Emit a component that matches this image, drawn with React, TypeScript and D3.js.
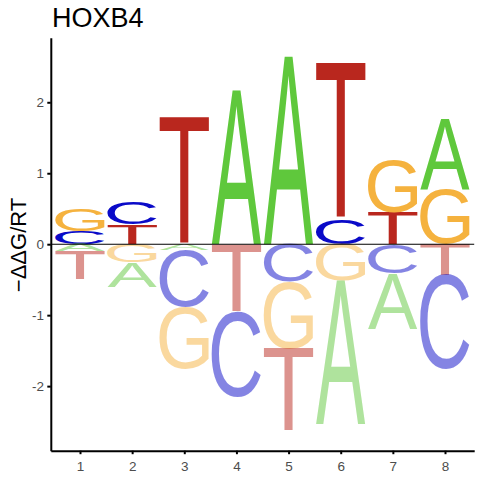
import { useEffect, useRef } from "react";
import * as d3 from "d3";

// energy logo values (-ddG/RT) per position
const positions = [1, 2, 3, 4, 5, 6, 7, 8];
const bases = ["A", "C", "G", "T"];
const valuesA = [-0.10, -0.35, -0.08, 2.17, 2.65, -2.03, -0.78, 1.00];
const valuesC = [0.18, 0.32, -0.80, -1.20, -0.53, 0.36, -0.41, -1.33];
const valuesG = [0.31, -0.25, -0.88, 0.0, -0.94, -0.51, 0.74, 0.77];
const valuesT = [-0.40, 0.28, 1.80, -0.95, -1.17, 2.20, 0.45, -0.44];
const yTicks = [-2, -1, 0, 1, 2];
const title = "HOXB4";
const yLabel = "\u2212\u0394\u0394G/RT";

const baseColors: Record<string, string> = {
    A: "#5fc83c",
    C: "#0a0ac8",
    G: "#f5b23e",
    T: "#b9271e",
};

const FONT = "Liberation Sans";

interface GlyphBox {
    left: number;
    right: number;
    ascent: number;
    descent: number;
}

const glyphCache: Record<string, GlyphBox> = {};
let measureCtx: CanvasRenderingContext2D | null = null;

// tight ink bounds of a letter drawn at 100px
function glyphBox(ch: string): GlyphBox {
    if (glyphCache[ch]) return glyphCache[ch];
    if (!measureCtx) measureCtx = document.createElement("canvas").getContext("2d");
    const ctx = measureCtx!;
    ctx.font = `100px '${FONT}'`;
    const m = ctx.measureText(ch);
    const box = {
        left: m.actualBoundingBoxLeft,
        right: m.actualBoundingBoxRight,
        ascent: m.actualBoundingBoxAscent,
        descent: m.actualBoundingBoxDescent,
    };
    glyphCache[ch] = box;
    return box;
}

export default function App() {
    const svgRef = useRef<SVGSVGElement>(null);

    useEffect(() => {
        const svg = d3.select(svgRef.current);
        svg.selectAll("*").remove();

        const x = d3.scaleLinear().domain([0.44, 8.56]).range([50.8, 474.2]);
        const y = d3.scaleLinear().domain([-2.91, 2.91]).range([450.7, 37.7]);

        const series: Record<string, number[]> = { A: valuesA, C: valuesC, G: valuesG, T: valuesT };
        const halfWidth = 0.475;

        const letters = svg.append("g");

        positions.forEach((pos, i) => {
            const cells = bases.map(b => ({ base: b, value: series[b][i] })).filter(d => d.value !== 0);
            // smallest magnitude sits next to zero
            const up = cells.filter(d => d.value > 0).sort((a, b) => a.value - b.value);
            const down = cells.filter(d => d.value < 0).sort((a, b) => b.value - a.value);

            const draw = (base: string, v0: number, v1: number, negative: boolean) => {
                const g = glyphBox(base);
                const x0 = x(pos - halfWidth);
                const x1 = x(pos + halfWidth);
                const yTop = y(Math.max(v0, v1));
                const yBot = y(Math.min(v0, v1));
                const sx = (x1 - x0) / (g.left + g.right);
                const sy = (yBot - yTop) / (g.ascent + g.descent);
                letters.append("text")
                    .attr("x", 0)
                    .attr("y", 0)
                    .attr("font-family", FONT)
                    .attr("font-size", 100)
                    .attr("fill", baseColors[base])
                    .attr("fill-opacity", negative ? 0.5 : 1)
                    .attr("transform", `translate(${x0},${yTop}) scale(${sx},${sy}) translate(${g.left},${g.ascent})`)
                    .text(base);
            };

            let acc = 0;
            up.forEach(d => {
                draw(d.base, acc, acc + d.value, false);
                acc += d.value;
            });
            acc = 0;
            down.forEach(d => {
                draw(d.base, acc, acc + d.value, true);
                acc += d.value;
            });
        });

        // zero line
        svg.append("line")
            .attr("x1", x.range()[0])
            .attr("x2", x.range()[1])
            .attr("y1", y(0))
            .attr("y2", y(0))
            .attr("stroke", "#000")
            .attr("stroke-width", 1.1);

        // Axes
        const yAxis = svg.append("g")
            .attr("transform", `translate(${x.range()[0]},0)`)
            .call(d3.axisLeft(y).tickValues(yTicks).tickSize(3.5).tickSizeOuter(0).tickPadding(3.3).tickFormat(d => `${d}`));

        const xAxis = svg.append("g")
            .attr("transform", `translate(0,${y.range()[0]})`)
            .call(d3.axisBottom(x).tickValues(positions).tickSize(3.5).tickSizeOuter(0).tickPadding(7).tickFormat(d => `${d}`));

        [yAxis, xAxis].forEach(ax => {
            ax.attr("font-size", 13.5).attr("font-family", FONT);
            ax.select(".domain").attr("stroke", "#000").attr("stroke-width", 2);
            ax.selectAll(".tick line").attr("stroke", "#000").attr("stroke-width", 2);
            ax.selectAll("text").attr("fill", "#4d4d4d");
        });

        // Title and axis label
        svg.append("text")
            .attr("x", 52)
            .attr("y", 26.5)
            .attr("font-family", FONT)
            .attr("font-size", 27)
            .attr("fill", "#000")
            .text(title);

        svg.append("text")
            .attr("transform", `translate(25.5,245) rotate(-90)`)
            .attr("text-anchor", "middle")
            .attr("font-family", FONT)
            .attr("font-size", 22)
            .attr("fill", "#000")
            .text(yLabel);
    }, []);

    return (
        <svg
            ref={svgRef}
            width={480}
            height={480}
            style={{ position: "absolute", left: 0, top: 0, background: "#fff" }}
        />
    );
}
